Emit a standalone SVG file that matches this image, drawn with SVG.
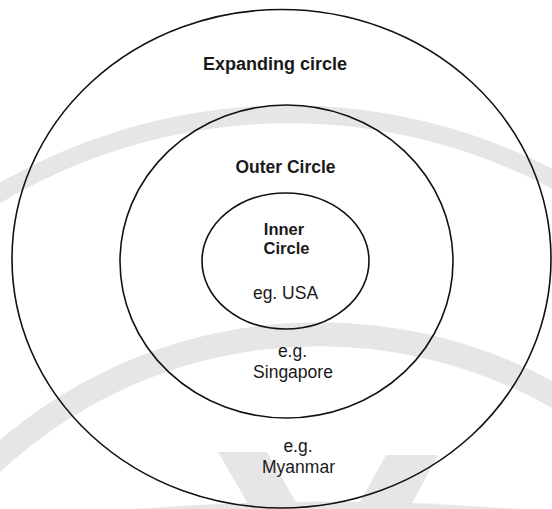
<svg xmlns="http://www.w3.org/2000/svg" width="552" height="509" viewBox="0 0 552 509">
  <style>
    .ring { fill: none; stroke: #111; stroke-width: 1.6; }
    .wm { fill: none; stroke: #e6e6e6; }
    .wmf { fill: #e6e6e6; stroke: none; }
    .lbl { font-family: "Liberation Sans", Arial, sans-serif; font-size: 17.5px; fill: #1a1a1a; text-anchor: middle; }
    .b { font-weight: bold; }
    .sm { font-size: 16.5px; }
  </style>
  <rect x="0" y="0" width="552" height="509" fill="#ffffff"/>
  <g id="watermark">
    <path class="wm" stroke-width="18" d="M -10 199 A 570 570 0 0 1 562 184"/>
    <path class="wm" stroke-width="24" d="M -10 465 A 480 480 0 0 1 562 400"/>
    <path class="wmf" d="M135 509 Q 325 494 515 509 Z"/>
    <polygon class="wmf" points="218,452 267,452 300,509 251,509"/>
    <polygon class="wmf" points="386,455 438,455 409,509 356,509"/>
  </g>
  <g id="expanding-circle">
    <ellipse class="ring" cx="281.5" cy="258.75" rx="269.5" ry="249.25"/>
    <text class="lbl b" x="275" y="70" style="font-size:18px">Expanding circle</text>
    <text class="lbl" x="298" y="452">e.g.</text>
    <text class="lbl" x="298.5" y="473">Myanmar</text>
  </g>
  <g id="outer-circle">
    <ellipse class="ring" cx="286.5" cy="261.5" rx="166.5" ry="156.5"/>
    <text class="lbl b" x="285.5" y="172.5">Outer Circle</text>
    <text class="lbl" x="292.5" y="357">e.g.</text>
    <text class="lbl" x="293" y="378">Singapore</text>
  </g>
  <g id="inner-circle">
    <ellipse class="ring" cx="285.5" cy="261" rx="83.5" ry="68"/>
    <text class="lbl b sm" x="284" y="235">Inner</text>
    <text class="lbl b sm" x="286.5" y="254">Circle</text>
    <text class="lbl" x="285.5" y="298.5">eg. USA</text>
  </g>
  <g id="connectors"></g>
</svg>
